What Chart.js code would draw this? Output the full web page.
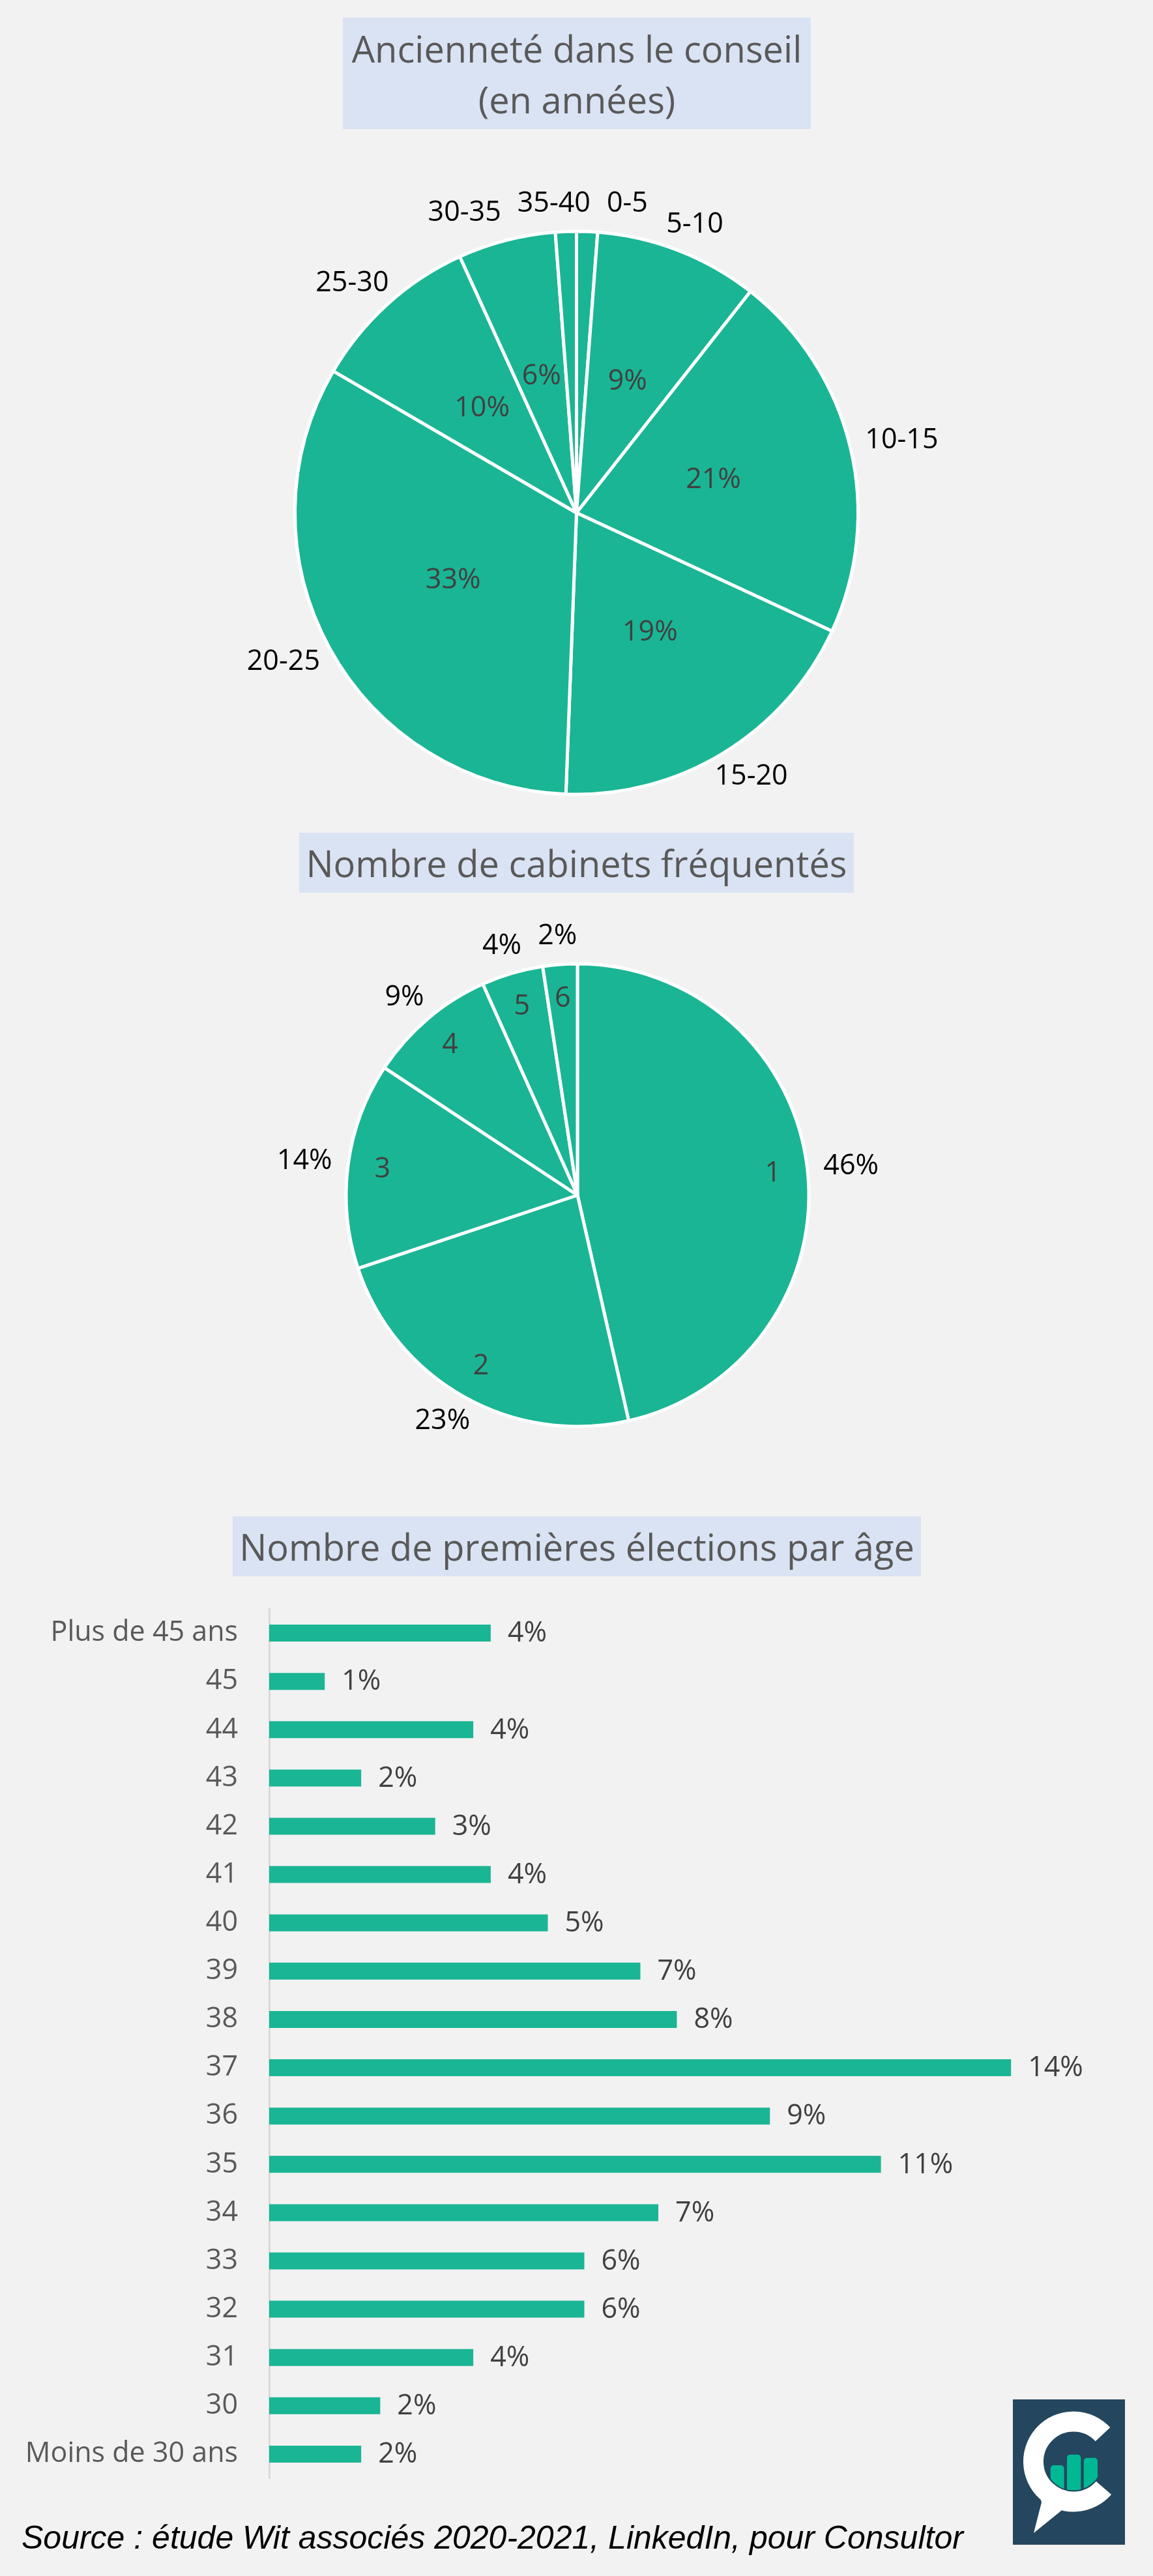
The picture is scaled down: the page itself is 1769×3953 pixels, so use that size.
<!DOCTYPE html>
<html lang="fr">
<head>
<meta charset="utf-8">
<title>Consultor - associés</title>
<script src="https://cdn.jsdelivr.net/npm/chart.js@4.4.1/dist/chart.umd.min.js"></script>
<style>
  html, body { margin: 0; padding: 0; background: #f2f2f2; }
  #page { position: relative; width: 1769px; height: 3953px; background: #f2f2f2; overflow: hidden; }
  .titre {
    position: absolute; z-index: 2;
    background: #dae3f3; color: #595959;
    font-family: 'Open Sans', sans-serif; font-size: 56px; line-height: 78px;
    display: flex; align-items: center; justify-content: center; text-align: center;
  }
  canvas { position: absolute; }
  #source {
    position: absolute; left: 33px; top: 3865px; white-space: nowrap;
    font-family: 'Liberation Sans', Arial, sans-serif; font-style: italic; font-size: 50px; color: #000;
  }
  #logo { position: absolute; left: 1554px; top: 3682px; }
</style>
</head>
<body>
<div id="page">
  <div class="titre" style="left:526px;top:27px;width:718px;height:171px"><span>Ancienneté dans le conseil<br>(en années)</span></div>
  <canvas id="anciennete" width="1769" height="1094" style="left:0;top:240px"></canvas>

  <div class="titre" style="left:459px;top:1278px;width:851px;height:92px"><span>Nombre de cabinets fréquentés</span></div>
  <canvas id="cabinets" width="1766" height="868" style="left:3px;top:1400px"></canvas>

  <div class="titre" style="left:357px;top:2327px;width:1056px;height:92px"><span>Nombre de premières élections par âge</span></div>
  <canvas id="ages" width="1769" height="1400" style="left:0;top:2440px"></canvas>

  <div id="source">Source : étude Wit associés 2020-2021, LinkedIn, pour Consultor</div>

  <svg id="logo" width="172" height="223" viewBox="0 0 172 223">
    <defs><clipPath id="trou"><circle cx="93" cy="95.5" r="44"/></clipPath></defs>
    <rect width="172" height="223" fill="#24465e"/>
    <path d="M138 53.6 A61.5 61.5 0 1 0 139.4 135.8" fill="none" stroke="#fff" stroke-width="31"/>
    <path d="M40 145 L44 158 L32 205 L74 171 L70 160 Z" fill="#fff"/>
    <g clip-path="url(#trou)" fill="#00b894">
      <rect x="57.7" y="101" width="21" height="60" rx="5"/>
      <rect x="83" y="84.7" width="21.3" height="80" rx="5"/>
      <rect x="108.7" y="89.7" width="21.3" height="70" rx="5"/>
    </g>
  </svg>
</div>

<script>
// données
const anciennete = ['0-5', '5-10', '10-15', '15-20', '20-25', '25-30', '30-35', '35-40'];
const ancienneteValeurs = [1.2, 9.4, 21.3, 18.7, 32.8, 9.8, 5.6, 1.2];

const cabinets = ['1', '2', '3', '4', '5', '6'];
const cabinetsValeurs = [46.4, 23.4, 14.4, 9.0, 4.3, 2.4];

const ages = ['Plus de 45 ans', '45', '44', '43', '42', '41', '40', '39', '38',
  '37', '36', '35', '34', '33', '32', '31', '30', 'Moins de 30 ans'];
const agesValeurs = [4.19, 1.05, 3.86, 1.74, 3.14, 4.19, 5.27, 7.02, 7.71,
  14.03, 9.47, 11.57, 7.36, 5.96, 5.96, 3.86, 2.10, 1.74];
const agesEtiquettes = ['4%', '1%', '4%', '2%', '3%', '4%', '5%', '7%', '8%',
  '14%', '9%', '11%', '7%', '6%', '6%', '4%', '2%', '2%'];

const VERT = '#1ab594';
const POLICE = "'Open Sans', sans-serif";

// étiquettes des secteurs : une à l'intérieur, une à l'extérieur
const etiquettesPie = {
  id: 'etiquettes',
  afterDatasetsDraw(chart, args, opts) {
    const ctx = chart.ctx;
    const meta = chart.getDatasetMeta(0);
    const values = chart.data.datasets[0].data;
    const total = values.reduce((a, b) => a + b, 0);
    ctx.save();
    ctx.font = '43px ' + POLICE;
    ctx.textAlign = 'center';
    ctx.textBaseline = 'middle';
    const dehors = [];
    meta.data.forEach((arc, i) => {
      const p = arc.getProps(['x', 'y', 'startAngle', 'endAngle', 'outerRadius'], true);
      const mid = (p.startAngle + p.endAngle) / 2;
      const dx = Math.cos(mid), dy = Math.sin(mid);
      const part = values[i] / total * 100;
      const pct = Math.round(part) + '%';
      const cat = chart.data.labels[i];
      const dedans = opts.dedans === 'pct' ? pct : cat;
      const autre = opts.dedans === 'pct' ? cat : pct;
      if (part >= opts.minDedans) {
        ctx.fillStyle = '#404040';
        const r = p.outerRadius * opts.posDedans;
        ctx.fillText(dedans, p.x + dx * r, p.y + dy * r);
      }
      const w = ctx.measureText(autre).width, h = 36;
      const r = p.outerRadius + opts.ecart;
      dehors.push({ t: autre, x: p.x + dx * r + dx * w / 2, y: p.y + dy * r + dy * h / 2, w, h });
    });
    // on écarte les étiquettes qui se chevauchent
    for (let n = 0; n < 40; n++) {
      for (let i = 0; i < dehors.length; i++) {
        for (let j = i + 1; j < dehors.length; j++) {
          const a = dehors[i], b = dehors[j];
          const ox = (a.w + b.w) / 2 + 25 - Math.abs(a.x - b.x);
          const oy = (a.h + b.h) / 2 - Math.abs(a.y - b.y);
          if (ox > 0 && oy > 0) {
            const s = b.x >= a.x ? 1 : -1;
            a.x -= s * ox / 2;
            b.x += s * ox / 2;
          }
        }
      }
    }
    ctx.fillStyle = '#000';
    dehors.forEach(e => ctx.fillText(e.t, e.x, e.y));
    ctx.restore();
  }
};

// valeurs au bout des barres
const valeursBarres = {
  id: 'valeurs',
  afterDatasetsDraw(chart, args, opts) {
    const ctx = chart.ctx;
    ctx.save();
    ctx.font = '43px ' + POLICE;
    ctx.fillStyle = '#404040';
    ctx.textAlign = 'left';
    ctx.textBaseline = 'middle';
    chart.getDatasetMeta(0).data.forEach((bar, i) => {
      ctx.fillText(opts.textes[i], bar.x + 26, bar.y + 1);
    });
    ctx.restore();
  }
};

function pie(id, labels, data, radius, etiq) {
  return new Chart(document.getElementById(id), {
    type: 'pie',
    data: {
      labels: labels,
      datasets: [{
        data: data,
        backgroundColor: VERT,
        borderColor: '#ffffff',
        borderWidth: 5,
        hoverOffset: 0,
      }],
    },
    options: {
      responsive: false,
      animation: false,
      events: [],
      radius: radius,
      plugins: {
        legend: { display: false },
        tooltip: { enabled: false },
        etiquettes: etiq,
      },
    },
    plugins: [etiquettesPie],
  });
}

pie('anciennete', anciennete, ancienneteValeurs, 432,
  { dedans: 'pct', posDedans: 0.5, minDedans: 3, ecart: 25 });
pie('cabinets', cabinets, cabinetsValeurs, 355,
  { dedans: 'cat', posDedans: 0.85, minDedans: 0, ecart: 25 });

new Chart(document.getElementById('ages'), {
  type: 'bar',
  data: {
    labels: ages,
    datasets: [{
      data: agesValeurs,
      backgroundColor: VERT,
      barPercentage: 0.351,
      categoryPercentage: 1,
    }],
  },
  options: {
    indexAxis: 'y',
    responsive: false,
    animation: false,
    events: [],
    layout: { padding: { top: 29, bottom: 37, right: 58, left: 0 } },
    scales: {
      x: { display: false, min: 0, max: 16 },
      y: {
        grid: { display: false, drawTicks: false },
        border: { display: true, color: '#d9d9d9', width: 3 },
        ticks: {
          autoSkip: false,
          color: '#595959',
          padding: 48,
          font: { family: POLICE, size: 43 },
        },
        afterFit(scale) {
          // largeur fixe de l'axe, sans marge haute/basse ajoutée
          scale.width = 413;
          scale.paddingTop = 0;
          scale.paddingBottom = 0;
        },
      },
    },
    plugins: {
      legend: { display: false },
      tooltip: { enabled: false },
      valeurs: { textes: agesEtiquettes },
    },
  },
  plugins: [valeursBarres],
});
</script>
</body>
</html>
